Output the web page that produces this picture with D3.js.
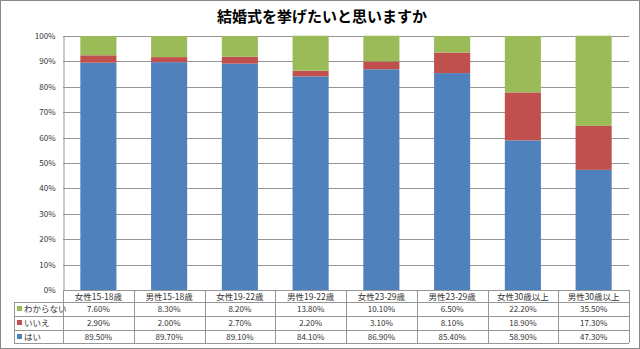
<!DOCTYPE html>
<html><head><meta charset="utf-8">
<script src="https://cdn.jsdelivr.net/npm/d3@7"></script>
<style>body{margin:0;background:#fff}svg{display:block}text{font-family:"Noto Sans CJK JP","Noto Sans",sans-serif}</style>
</head><body><svg id="c" width="640" height="349"></svg>
<script>
const categories = ["女性15-18歳","男性15-18歳","女性19-22歳","男性19-22歳","女性23-29歳","男性23-29歳","女性30歳以上","男性30歳以上"];
const seriesNames = ["はい","いいえ","わからない"];
const hai = [89.5,89.7,89.1,84.1,86.9,85.4,58.9,47.3];
const iie = [2.9,2.0,2.7,2.2,3.1,8.1,18.9,17.3];
const wakaranai = [7.6,8.3,8.2,13.8,10.1,6.5,22.2,35.5];
const yTicks = [0,10,20,30,40,50,60,70,80,90,100];
const colors = {"はい":"#4F81BD","いいえ":"#C0504D","わからない":"#9BBB59"};

(function(){
const svg = d3.select("#c");
svg.append("rect").attr("x",0.5).attr("y",0.5).attr("width",639).attr("height",348).attr("fill","#fff").attr("stroke","#888");

svg.append("text").attr("x",322).attr("y",22).attr("text-anchor","middle").attr("font-size",15).attr("font-weight","bold").text("結婚式を挙げたいと思いますか");

const pL=63,pR=629,pT=36,pB=290;
const x = d3.scaleBand().domain(categories).range([pL,pR]).paddingInner(0.49).paddingOuter(0.245);
const xcol = d3.scaleBand().domain(categories).range([pL,pR]);
const y = d3.scaleLinear().domain([0,100]).range([pB,pT]);

const g = svg.append("g");
g.selectAll("line.grid").data(yTicks).join("line").attr("x1",pL).attr("x2",pR)
 .attr("y1",d=>Math.round(y(d))+0.5).attr("y2",d=>Math.round(y(d))+0.5).attr("stroke","#969696").attr("stroke-width",1);
const yAxis = d3.axisLeft(y).tickValues(yTicks).tickFormat(d=>d+"%").tickSize(0).tickPadding(8);
const ya = svg.append("g").attr("transform",`translate(${pL+0.5},0)`).call(yAxis);
ya.select(".domain").attr("stroke","#969696");
ya.selectAll("text").attr("font-size",8).attr("fill","#333");

const rows = categories.map((c,i)=>({cat:c,"はい":hai[i],"いいえ":iie[i],"わからない":wakaranai[i]}));
const stack = d3.stack().keys(seriesNames)(rows);
svg.append("g").selectAll("g").data(stack).join("g").attr("fill",d=>colors[d.key])
 .selectAll("rect").data(d=>d).join("rect")
 .attr("x",d=>x(d.data.cat)).attr("width",x.bandwidth())
 .attr("y",d=>y(d[1])).attr("height",d=>y(d[0])-y(d[1]));

// data table
const tbl = svg.append("g");
const rowY = [290,302,316,330,343];
const tableLeft = 14;
const lineC = "#969696";
tbl.append("line").attr("x1",pL).attr("x2",pR).attr("y1",rowY[0]+0.5).attr("y2",rowY[0]+0.5).attr("stroke",lineC);
for(let k=1;k<rowY.length;k++){
  tbl.append("line").attr("x1",tableLeft).attr("x2",pR).attr("y1",rowY[k]+0.5).attr("y2",rowY[k]+0.5).attr("stroke",lineC);
}
const vx = categories.map(c=>xcol(c)).concat([pR]);
vx.forEach(v=>tbl.append("line").attr("x1",Math.round(v)+0.5).attr("x2",Math.round(v)+0.5).attr("y1",rowY[0]).attr("y2",rowY[4]).attr("stroke",lineC));
tbl.append("line").attr("x1",tableLeft+0.5).attr("x2",tableLeft+0.5).attr("y1",rowY[1]).attr("y2",rowY[4]).attr("stroke",lineC);

tbl.selectAll("text.cat").data(categories).join("text").attr("x",d=>xcol(d)+xcol.bandwidth()/2).attr("y",rowY[0]+10)
 .attr("text-anchor","middle").attr("font-size",8.5).attr("fill","#333").text(d=>d);

const tableSeries = [["わからない",wakaranai],["いいえ",iie],["はい",hai]];
tableSeries.forEach(([name,vals],r)=>{
  const yy = rowY[r+1]+10;
  tbl.append("rect").attr("x",tableLeft+3).attr("y",yy-6).attr("width",5).attr("height",5).attr("fill",colors[name]);
  tbl.append("text").attr("x",tableLeft+10).attr("y",yy).attr("font-size",8.5).attr("fill","#333").text(name);
  tbl.selectAll(null).data(vals).join("text").attr("x",(d,i)=>xcol(categories[i])+xcol.bandwidth()/2).attr("y",yy)
   .attr("text-anchor","middle").attr("font-size",8).attr("fill","#333").text(d=>d.toFixed(2)+"%");
});
})();
</script></body></html>
